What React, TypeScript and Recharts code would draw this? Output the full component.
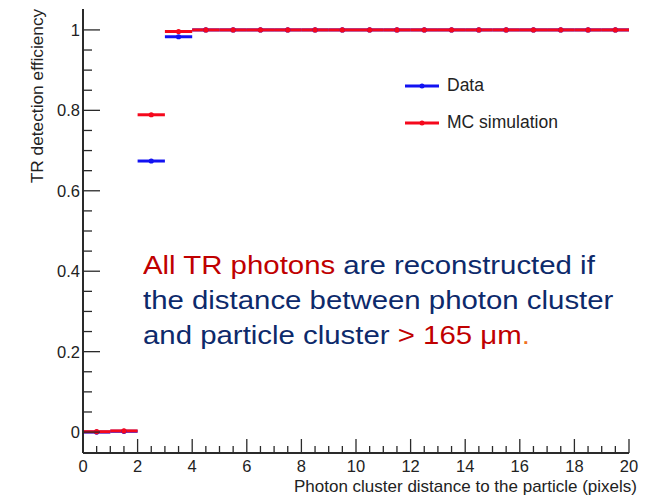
import React from "react";
import { ComposedChart, Scatter, ErrorBar, XAxis, YAxis, Legend } from "recharts";

// bin centres (pixels) and efficiencies per bin
const binCenters = [0.5, 1.5, 2.5, 3.5, 4.5, 5.5, 6.5, 7.5, 8.5, 9.5, 10.5, 11.5, 12.5, 13.5, 14.5, 15.5, 16.5, 17.5, 18.5, 19.5];
const dataEff = [0.0, 0.002, 0.674, 0.983, 1, 1, 1, 1, 1, 1, 1, 1, 1, 1, 1, 1, 1, 1, 1, 1];
const mcEff = [0.001, 0.003, 0.789, 0.996, 1, 1, 1, 1, 1, 1, 1, 1, 1, 1, 1, 1, 1, 1, 1, 1];
const binHalfWidth = 0.5;

const xTicks = [0, 0.5, 1, 1.5, 2, 2.5, 3, 3.5, 4, 4.5, 5, 5.5, 6, 6.5, 7, 7.5, 8, 8.5, 9, 9.5, 10, 10.5, 11, 11.5, 12, 12.5, 13, 13.5, 14, 14.5, 15, 15.5, 16, 16.5, 17, 17.5, 18, 18.5, 19, 19.5, 20];
const xLabelTicks = [0, 2, 4, 6, 8, 10, 12, 14, 16, 18, 20];
const yTicks = [0, 0.05, 0.1, 0.15, 0.2, 0.25, 0.3, 0.35, 0.4, 0.45, 0.5, 0.55, 0.6, 0.65, 0.7, 0.75, 0.8, 0.85, 0.9, 0.95, 1];
const yLabelTicks = [0, 0.2, 0.4, 0.6, 0.8, 1];

const BLUE = "#1212f2";
const RED = "#f5081c";
const AXIS = "#2a2a2a";
const FONT = "'Liberation Sans', Arial, Helvetica, sans-serif";

const W = 659;
const H = 498;
const PLOT_LEFT = 83;
const PLOT_TOP = 9;
const PLOT_RIGHT = 629;
const PLOT_BOTTOM = 453;

const toPoints = (vals: number[]) =>
  binCenters.map((x, i) => ({ x, y: vals[i], xErr: binHalfWidth }));

const dataPoints = toPoints(dataEff);
const mcPoints = toPoints(mcEff);

const legendItems = [
  { label: "Data", color: BLUE },
  { label: "MC simulation", color: RED },
];

function YTick({ y, payload }: any) {
  const major = yLabelTicks.includes(payload.value);
  const len = major ? 17 : 9;
  return (
    <g>
      <line x1={PLOT_LEFT} x2={PLOT_LEFT + len} y1={y} y2={y} stroke={AXIS} strokeWidth={1.3} />
      {major && (
        <text x={PLOT_LEFT - 3} y={y} dy="0.36em" textAnchor="end" fontSize={16.5} fontFamily={FONT} fill="#222">
          {String(payload.value)}
        </text>
      )}
    </g>
  );
}

function XTick({ x, payload }: any) {
  const major = xLabelTicks.includes(payload.value);
  const len = major ? 14 : 7;
  return (
    <g>
      <line x1={x} x2={x} y1={PLOT_BOTTOM} y2={PLOT_BOTTOM - len} stroke={AXIS} strokeWidth={1.3} />
      {major && (
        <text x={x} y={PLOT_BOTTOM + 13} dy="0.36em" textAnchor="middle" fontSize={16.5} fontFamily={FONT} fill="#222">
          {String(payload.value)}
        </text>
      )}
    </g>
  );
}

function YTitle() {
  return (
    <text
      x={37}
      y={96}
      transform="rotate(-90 37 96)"
      textAnchor="middle"
      dy="0.36em"
      fontSize={17.3}
      fontFamily={FONT}
      fill="#222"
    >
      TR detection efficiency
    </text>
  );
}

function XTitle() {
  return (
    <text x={637} y={486} dy="0.36em" textAnchor="end" fontSize={17} fontFamily={FONT} fill="#222">
      Photon cluster distance to the particle (pixels)
    </text>
  );
}

function LegendBox() {
  return (
    <div style={{ fontFamily: FONT, fontSize: 17.5, color: "#222" }}>
      {legendItems.map((it) => (
        <div key={it.label} style={{ display: "flex", alignItems: "center", height: 37 }}>
          <svg width={36} height={10} style={{ marginRight: 7 }}>
            <line x1={1} x2={35} y1={5} y2={5} stroke={it.color} strokeWidth={3} />
            <circle cx={18} cy={5} r={2.5} fill={it.color} />
          </svg>
          <span>{it.label}</span>
        </div>
      ))}
    </div>
  );
}

const marker = (color: string) => (p: any) =>
  <circle cx={p.cx} cy={p.cy} r={2.6} fill={color} />;

export default function App() {
  return (
    <div style={{ position: "absolute", left: 0, top: 0, width: W, height: H, background: "#fff" }}>
      <ComposedChart
        width={W}
        height={H}
        margin={{ top: PLOT_TOP, right: W - PLOT_RIGHT, bottom: 0, left: 0 }}
      >
        <XAxis
          xAxisId="main"
          dataKey="x"
          type="number"
          domain={[0, 20]}
          ticks={xTicks}
          interval={0}
          tick={<XTick />}
          tickLine={false}
          height={H - PLOT_BOTTOM}
          axisLine={{ stroke: AXIS, strokeWidth: 2 }}
          label={<XTitle />}
          allowDataOverflow
        />
        <XAxis xAxisId="top" orientation="top" type="number" domain={[0, 20]} height={0} tick={false} tickLine={false} axisLine={{ stroke: "#333", strokeWidth: 1.6 }} />
        <YAxis
          yAxisId="main"
          type="number"
          domain={[-0.052, 1.052]}
          ticks={yTicks}
          interval={0}
          tick={<YTick />}
          tickLine={false}
          width={PLOT_LEFT}
          axisLine={{ stroke: AXIS, strokeWidth: 2 }}
          label={<YTitle />}
          allowDataOverflow
        />
        <YAxis yAxisId="right" orientation="right" type="number" domain={[0, 1]} width={0} tick={false} tickLine={false} axisLine={{ stroke: "#777", strokeWidth: 2 }} />
        <Legend
          layout="horizontal"
          verticalAlign="middle"
          align="center"
          wrapperStyle={{ left: 404, top: 67, width: 220 }}
          content={() => <LegendBox />}
        />
        <Scatter
          name="Data"
          data={dataPoints}
          dataKey="y"
          xAxisId="main"
          yAxisId="main"
          fill={BLUE}
          shape={marker(BLUE)}
          isAnimationActive={false}
        >
          <ErrorBar dataKey="xErr" direction="x" width={0} stroke={BLUE} strokeWidth={3} isAnimationActive={false} />
        </Scatter>
        <Scatter
          name="MC simulation"
          data={mcPoints}
          dataKey="y"
          xAxisId="main"
          yAxisId="main"
          fill={RED}
          shape={marker(RED)}
          isAnimationActive={false}
        >
          <ErrorBar dataKey="xErr" direction="x" width={0} stroke={RED} strokeWidth={3} isAnimationActive={false} />
        </Scatter>
      </ComposedChart>
      <div
        style={{
          position: "absolute",
          left: 143,
          top: 248,
          fontFamily: FONT,
          fontSize: 26,
          lineHeight: "35px",
          color: "#0d2a6b",
          whiteSpace: "nowrap",
          transform: "scaleX(1.13)",
          transformOrigin: "left top",
        }}
      >
        <div>
          <span style={{ color: "#c00000" }}>All TR photons</span> are reconstructed if
        </div>
        <div>the distance between photon cluster</div>
        <div>
          and particle cluster <span style={{ color: "#c00000" }}>&gt; 165 μm</span>
          <span style={{ color: "#f07020" }}>.</span>
        </div>
      </div>
    </div>
  );
}
